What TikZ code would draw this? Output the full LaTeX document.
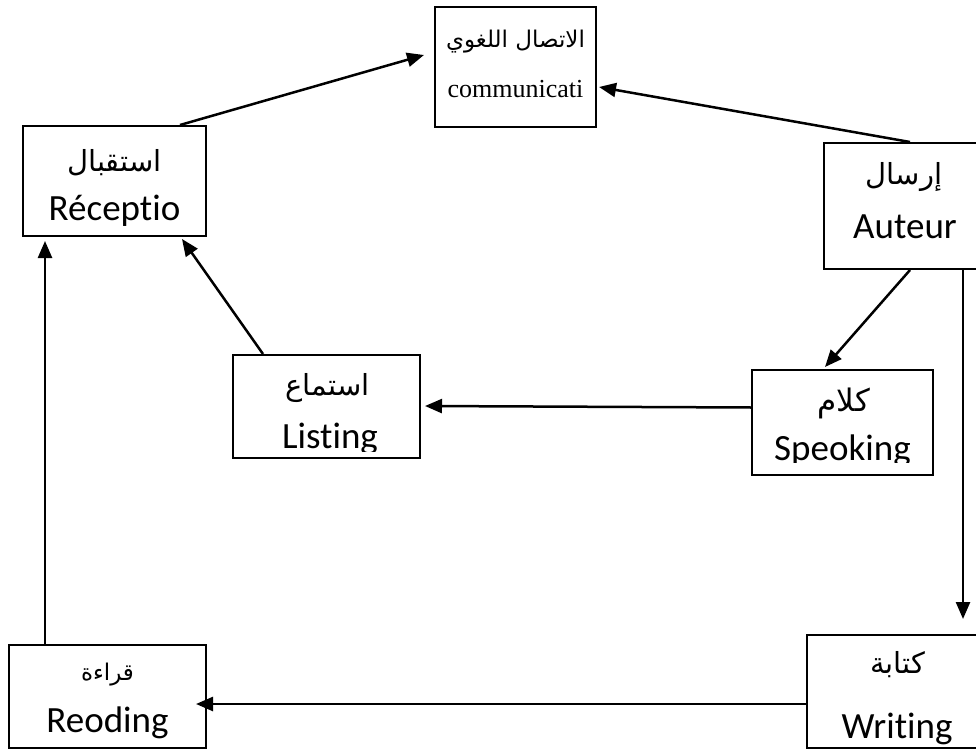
\documentclass[tikz,border=0pt]{standalone}
\usepackage{fontspec}
\newfontfamily\arabicfont[Script=Arabic]{DejaVu Sans}
\newfontfamily\calibrifont[Ligatures=NoCommon]{Carlito}
\newfontfamily\timesfont{Liberation Serif}
\TeXXeTstate=1
\usetikzlibrary{arrows.meta}
\tikzset{
  box/.style={rectangle,draw,line width=2pt,inner sep=0pt},
  artext/.style={inner sep=0pt,font=\arabicfont\fontsize{29}{34}\selectfont},
  lattext/.style={anchor=base,inner sep=0pt,font=\calibrifont\fontsize{37}{42}\selectfont},
  link/.style={-{Triangle[length=17pt,width=14pt]},line width=2.5pt},
}

\begin{document}
\begin{tikzpicture}[x=1pt,y=-1pt]
      \useasboundingbox (0,0) rectangle (976,751);

      % boxes
      \node[box,minimum width=161,minimum height=120] (comm) at (515.5,67)  {};
      \node[box,minimum width=183,minimum height=110] (rec)  at (114.5,181) {};
      \node[box,minimum width=156,minimum height=126] (aut)  at (902,206)   {};
      \node[box,minimum width=187,minimum height=103] (lst)  at (326.5,406.5) {};
      \node[box,minimum width=181,minimum height=105] (spk)  at (842.5,422.5) {};
      \node[box,minimum width=173,minimum height=113] (wrt)  at (893.5,691.5) {};
      \node[box,minimum width=197,minimum height=103] (red)  at (107.5,696.5) {};

      % texts
      \node[artext,font=\arabicfont\fontsize{23}{28}\selectfont] (commar) at ([yshift=25pt]comm.center) {\beginR الاتصال اللغوي\endR};
      \node[lattext,font=\timesfont\fontsize{26}{30}\selectfont] (commlt) at ([yshift=-31pt]comm.center) {communicati};

      \node[artext] (recar) at ([yshift=18pt]rec.center) {\beginR استقبال\endR};
      \node[lattext] (reclt) at ([yshift=-40pt]rec.center) {Réceptio};

      \node[artext] (autar) at ([xshift=2pt,yshift=29pt]aut.center) {\beginR إرسال\endR};
      \node[lattext] (autlt) at ([xshift=3pt,yshift=-32pt]aut.center) {Auteur};

      \node[artext] (lstar) at ([xshift=1pt,yshift=18.5pt]lst.center) {\beginR استماع\endR};
      \begin{scope}
        \clip (lst.north west) rectangle ([yshift=8pt]lst.south east);
        \node[lattext] (lstlt) at ([xshift=3.5pt,yshift=-41.5pt]lst.center) {Listing};
      \end{scope}

      \node[artext,font=\arabicfont\fontsize{31}{36}\selectfont] (spkar) at ([xshift=1.5pt,yshift=19.5pt]spk.center) {\beginR كلام\endR};
      \begin{scope}
        \clip (spk.north west) rectangle ([yshift=14pt]spk.south east);
        \node[lattext] (spklt) at ([yshift=-37.5pt]spk.center) {Speoking};
      \end{scope}

      \node[artext] (wrtar) at ([xshift=4pt,yshift=26.5pt]wrt.center) {\beginR كتابة\endR};
      \node[lattext] (wrtlt) at ([xshift=3.5pt,yshift=-46.5pt]wrt.center) {Writing};

      \node[artext,font=\arabicfont\fontsize{23}{27}\selectfont] (redar) at ([yshift=21.5pt]red.center) {\beginR قراءة\endR};
      \node[lattext] (redlt) at ([yshift=-35.5pt]red.center) {Reoding};

      % connectors
      \draw[link] ([xshift=65.5pt]rec.north) -- ([shift={(-10pt,12pt)}]comm.west);
      \draw[link] ([xshift=8pt]aut.north) -- ([shift={(2pt,-20pt)}]comm.east);
      \draw[link] ([xshift=8pt]aut.south) -- ([shift={(-17.5pt,2pt)}]spk.north);
      \draw[link] ([yshift=15pt]spk.west) -- ([xshift=4pt,yshift=0.5pt]lst.east);
      \draw[link] ([xshift=-63.5pt]lst.north) -- ([shift={(67.5pt,-2pt)}]rec.south);
      \draw[link] ([xshift=61pt]aut.south) -- ([xshift=69.5pt,yshift=15pt]wrt.north);
      \draw[link] ([yshift=-12.5pt]wrt.west) -- ([shift={(-11pt,-7.5pt)}]red.east);
      \draw[link] ([xshift=-62.5pt]red.north) -- ([shift={(-69.5pt,-4pt)}]rec.south);
\end{tikzpicture}
\end{document}
